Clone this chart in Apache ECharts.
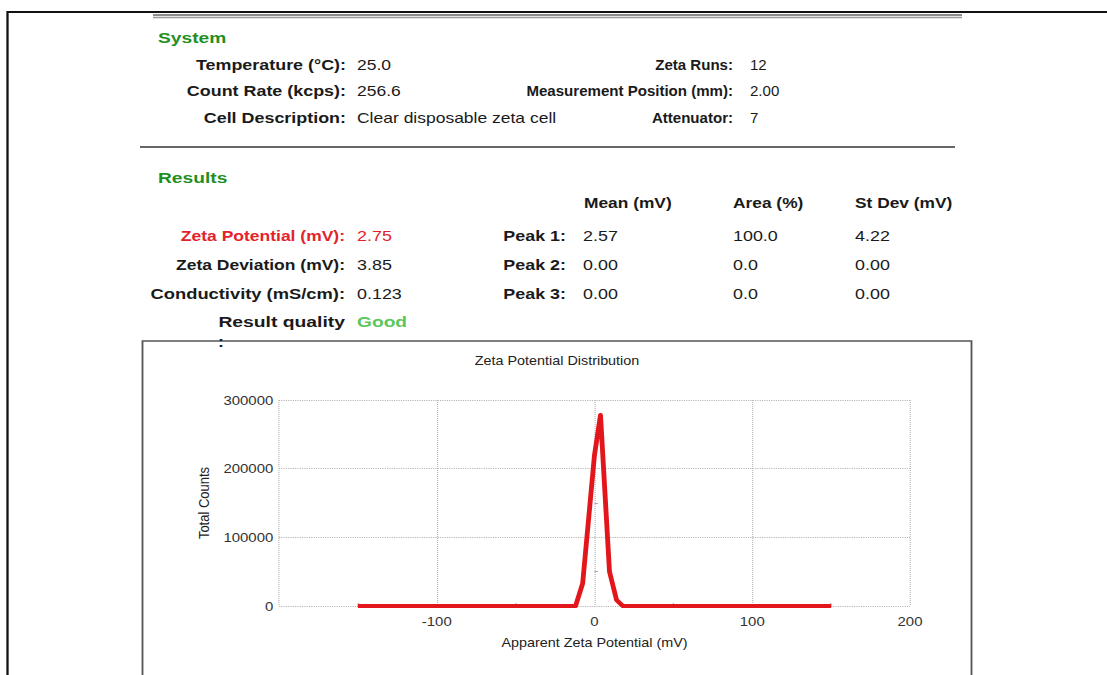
<!DOCTYPE html>
<html>
<head>
<meta charset="utf-8">
<script src="https://cdn.jsdelivr.net/npm/echarts@6/dist/echarts.min.js"></script>
<style>
html,body{margin:0;padding:0;background:#fff;overflow:hidden;}
#c{height:675px;transform-origin:0 0;}
</style>
</head>
<body>
<div id="c"></div>
<script>
// ---- data ----
const zetaMv = [-150, -12, -7.5, 0, 3.8, 9.5, 14, 18, 150];
const totalCounts = [0, 0, 33000, 220000, 278000, 50000, 8500, 0, 0];
const xTickMin = -200, xTickMax = 200, xTickStep = 100;
const yTickMin = 0, yTickMax = 300000, yTickStep = 100000;

const systemLeftLabels = ['Temperature (°C):', 'Count Rate (kcps):', 'Cell Description:'];
const systemLeftValues = ['25.0', '256.6', 'Clear disposable zeta cell'];
const systemRightLabels = ['Zeta Runs:', 'Measurement Position (mm):', 'Attenuator:'];
const systemRightValues = ['12', '2.00', '7'];
const resultLabels = ['Zeta Potential (mV):', 'Zeta Deviation (mV):', 'Conductivity (mS/cm):', 'Result quality'];
const resultValues = ['2.75', '3.85', '0.123', 'Good'];
const peakHeaders = ['Mean (mV)', 'Area (%)', 'St Dev (mV)'];
const peakLabels = ['Peak 1:', 'Peak 2:', 'Peak 3:'];
const peakMeans = ['2.57', '0.00', '0.00'];
const peakAreas = ['100.0', '0.0', '0.0'];
const peakStdevs = ['4.22', '0.00', '0.00'];

// ---- layout ----
const S = 1.15;
const W = 1107 / S;
const X = v => v / S;
const FONT = '"Liberation Sans", Arial, Helvetica, sans-serif';
const el = document.getElementById('c');
el.style.width = W + 'px';
el.style.transform = 'scaleX(' + S + ')';

const KL = 1.28 / S;   // stretch of most text
const KR = 1.04 / S;   // stretch of system right column

function txt(x, y, text, o) {
  o = o || {};
  return {
    type: 'text', x: X(x), y: y, scaleX: o.k || KL, z: 10,
    style: {
      text: text, fontFamily: FONT, fontSize: o.size || 14,
      fontWeight: o.bold ? 'bold' : 'normal', fill: o.color || '#1a1a1a',
      align: o.align || 'left', verticalAlign: 'middle'
    }
  };
}
function line(x1, y1, x2, y2, color, w) {
  return { type: 'line', shape: { x1: X(x1), y1: y1, x2: X(x2), y2: y2 },
    style: { stroke: color, lineWidth: w }, z: 5 };
}

const g = [];
// frame
g.push(line(7, 12, 1107, 12, '#111', 2));
g.push(line(7.5, 11, 7.5, 675, '#111', 2));
g.push(line(153, 15, 962, 15, '#666', 1.3));
g.push(line(153, 17.5, 962, 17.5, '#999', 1.3));
g.push(line(140, 147, 955, 147, '#666', 2));
// section titles
g.push(txt(158, 38, 'System', { bold: true, size: 15, color: '#1f8f1f' }));
g.push(txt(158, 178, 'Results', { bold: true, size: 15, color: '#1f8f1f' }));
// system rows
const sysY = [65, 91, 118];
sysY.forEach((y, i) => {
  g.push(txt(346, y, systemLeftLabels[i], { bold: true, align: 'right' }));
  g.push(txt(357, y, systemLeftValues[i], { k: 1.25 / S }));
  g.push(txt(733, y, systemRightLabels[i], { bold: true, align: 'right', k: KR, size: 14.5 }));
  g.push(txt(750, y, systemRightValues[i], { k: KR, size: 14.5 }));
});
// results
const colX = [584, 733, 855];
peakHeaders.forEach((h, i) => g.push(txt(colX[i], 203, h, { bold: true, k: 1.24 / S })));
const resY = [236, 265, 294, 322];
resultLabels.forEach((l, i) => {
  const red = i === 0;
  g.push(txt(345, resY[i], l, { bold: true, align: 'right', color: red ? '#e3232a' : '#1a1a1a',
    k: (i === 3 ? 1.38 : (i === 2 ? 1.31 : 1.25)) / S }));
  const good = i === 3;
  g.push(txt(357, resY[i], resultValues[i], {
    bold: good, size: good ? 15 : 14, color: red ? '#e3232a' : (good ? '#5cc65c' : '#1a1a1a') }));
});
g.push(txt(218, 342, ':', { bold: true }));
peakLabels.forEach((l, i) => {
  const y = resY[i];
  g.push(txt(566, y, l, { bold: true, align: 'right' }));
  g.push(txt(583, y, peakMeans[i]));
  g.push(txt(733, y, peakAreas[i]));
  g.push(txt(855, y, peakStdevs[i]));
});
// chart box
g.push({ type: 'rect', z: 4, shape: { x: X(142.5), y: 341, width: X(971.5) - X(142.5), height: 400 },
  style: { fill: 'none', stroke: '#555', lineWidth: 1.6 } });
g.push(txt(557, 361, 'Zeta Potential Distribution', { size: 12.5, align: 'center', k: 1, color: '#222' }));

const gridStyle = { color: '#b5b5b5', type: 'dotted', width: 1 };
const chart = echarts.init(el, null, { renderer: 'svg', width: W, height: 675 });
chart.setOption({
  animation: false,
  backgroundColor: '#fff',
  graphic: g,
  grid: { left: X(279), right: W - X(910), top: 400, bottom: 675 - 606 },
  xAxis: {
    type: 'value', min: xTickMin, max: xTickMax, interval: xTickStep,
    name: 'Apparent Zeta Potential (mV)', nameLocation: 'middle', nameGap: 30,
    nameTextStyle: { fontFamily: FONT, fontSize: 12.5, color: '#222' },
    axisLine: { show: false },
    axisTick: { show: false, inside: true },
    minorTick: { show: true, splitNumber: 2, length: 3, lineStyle: { color: '#aaa' } },
    splitLine: { show: true, lineStyle: gridStyle },
    axisLabel: { showMinLabel: false, fontFamily: FONT, fontSize: 13, color: '#333', margin: 9 }
  },
  yAxis: {
    type: 'value', min: yTickMin, max: yTickMax, interval: yTickStep,
    name: 'Total Counts', nameLocation: 'middle', nameGap: 49,
    nameTextStyle: { fontFamily: FONT, fontSize: 13, color: '#222' },
    axisLine: { show: false },
    axisTick: { show: false, inside: true },
    minorTick: { show: true, splitNumber: 2, length: 3, lineStyle: { color: '#aaa' } },
    splitLine: { show: true, lineStyle: gridStyle },
    axisLabel: { fontFamily: FONT, fontSize: 13, color: '#333', margin: 5,
      formatter: v => String(v) }
  },
  series: [{
    type: 'line', symbol: 'none', smooth: false,
    data: zetaMv.map((v, i) => [v, totalCounts[i]]),
    lineStyle: { color: '#e3161c', width: 4.2, join: 'round' },
    itemStyle: { color: '#e3161c' }
  }]
});
</script>
</body>
</html>
